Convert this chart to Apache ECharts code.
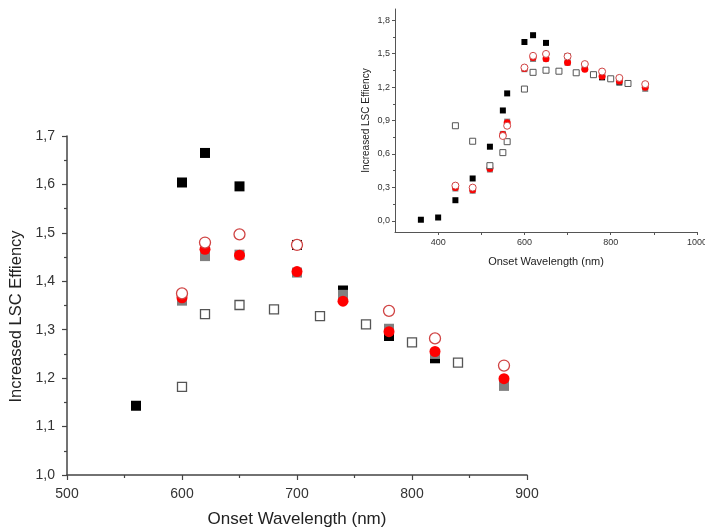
<!DOCTYPE html>
<html>
<head>
<meta charset="utf-8">
<script src="https://cdn.jsdelivr.net/npm/echarts@6/dist/echarts.min.js"></script>
<style>
  html, body { margin: 0; padding: 0; background: #fff; }
  #chart { width: 705px; height: 529px; }
</style>
</head>
<body>
<div id="chart"></div>
<script>
// Onset wavelength (nm) vs. increased LSC efficiency, five sample sets.
// Filled black squares
const blackSquares = [[360,0.01],[400,0.03],[440,0.185],[480,0.38],[520,0.665],[550,0.99],[560,1.143],[600,1.604],[620,1.665],[650,1.596],[700,1.475],[740,1.381],[780,1.287],[820,1.241]];
// Filled grey squares
const greySquares = [[440,0.29],[480,0.27],[520,0.46],[550,0.78],[560,0.89],[600,1.36],[620,1.452],[650,1.455],[700,1.418],[740,1.372],[780,1.302],[820,1.25],[880,1.184]];
// Filled red circles
const redDots = [[440,0.30],[480,0.28],[520,0.47],[550,0.775],[560,0.88],[600,1.366],[620,1.466],[650,1.454],[700,1.42],[740,1.359],[780,1.296],[820,1.255],[880,1.199]];
// Open squares
const openSquares = [[440,0.853],[480,0.714],[520,0.495],[550,0.612],[560,0.71],[600,1.182],[620,1.332],[650,1.351],[680,1.342],[720,1.328],[760,1.311],[800,1.274],[840,1.232]];
// Open red circles
const openCircles = [[440,0.316],[480,0.298],[550,0.761],[560,0.853],[600,1.375],[620,1.48],[650,1.497],[700,1.475],[780,1.339],[820,1.282],[880,1.226]];
// Extra open circle shown only in the wide-range inset
const openCirclesInsetExtra = [[740,1.406]];

const insetYLabels = [0,0.3,0.6,0.9,1.2,1.5,1.8];
const insetYMinor = [0.15,0.45,0.75,1.05,1.35,1.65];
const insetXLabels = [400,600,800,1000];
const insetXTicks = [400,500,600,700,800,900,1000];

const FONT = 'Liberation Sans, Arial, sans-serif';
const comma = v => (Math.round(v * 10) / 10).toFixed(1).replace('.', ',');
const plain = v => String(Math.round(v));

function inMain(p) { return p[0] >= 500 && p[0] <= 900 && p[1] >= 1.0 && p[1] <= 1.7; }

function seriesSet(axisIdx, big, circleData) {
  const sq = big ? 10 : 6;
  const cs = big ? 11 : 7;
  const f = d => big ? d.filter(inMain) : d;
  const base = { type: 'scatter', xAxisIndex: axisIdx, yAxisIndex: axisIdx === 0 ? 0 : 1, clip: true, silent: true };
  return [
    Object.assign({}, base, { data: f(blackSquares), symbol: 'rect', symbolSize: sq, itemStyle: { color: '#000', opacity: 1 } }),
    Object.assign({}, base, { data: f(greySquares), symbol: 'rect', symbolSize: sq, itemStyle: { color: '#808080', opacity: 1 } }),
    Object.assign({}, base, { data: f(redDots), symbol: 'circle', symbolSize: cs, itemStyle: { color: '#ff0000', opacity: 1 } }),
    Object.assign({}, base, { data: f(openSquares), symbol: 'rect', symbolSize: big ? 9 : 6, itemStyle: { color: '#fff', opacity: 1, borderColor: '#555', borderWidth: big ? 1.3 : 1 } }),
    Object.assign({}, base, { data: f(circleData), symbol: 'circle', symbolSize: cs, itemStyle: { color: '#fff', opacity: 1, borderColor: '#d04444', borderWidth: big ? 1.3 : 1 } })
  ];
}

const chart = echarts.init(document.getElementById('chart'), null, { renderer: 'canvas' });
chart.setOption({
  backgroundColor: '#fff',
  animation: false,
  grid: [
    { left: 67, right: 178, top: 136, bottom: 54, containLabel: false, outerBoundsMode: 'none' },
    { left: 395, right: 8, top: 9, bottom: 297, containLabel: false, outerBoundsMode: 'none' }
  ],
  xAxis: [
    {
      gridIndex: 0, type: 'value', min: 500, max: 900, interval: 100,
      name: 'Onset Wavelength (nm)', nameLocation: 'middle', nameGap: 36,
      nameTextStyle: { fontFamily: FONT, fontSize: 17, color: '#222' },
      axisLine: { show: true, onZero: false, lineStyle: { color: '#444', width: 1.5 } },
      axisTick: { show: true, length: 5, lineStyle: { color: '#444', width: 1.2 } },
      minorTick: { show: true, splitNumber: 2, length: 3, lineStyle: { color: '#444', width: 1.2 } },
      axisLabel: { fontFamily: FONT, fontSize: 14, color: '#333', margin: 12 },
      splitLine: { show: false }
    },
    {
      gridIndex: 1, type: 'value', min: 300, max: 1000,
      name: 'Onset Wavelength (nm)', nameLocation: 'middle', nameGap: 24,
      nameTextStyle: { fontFamily: FONT, fontSize: 11, color: '#222' },
      axisLine: { show: true, onZero: false, lineStyle: { color: '#555', width: 1 } },
      axisTick: { show: true, length: 3, customValues: insetXTicks, lineStyle: { color: '#555' } },
      axisLabel: { fontFamily: FONT, fontSize: 9, color: '#333', margin: 6, customValues: insetXLabels, formatter: plain },
      splitLine: { show: false }
    }
  ],
  yAxis: [
    {
      gridIndex: 0, type: 'value', min: 1.0, max: 1.7, interval: 0.1,
      name: 'Increased LSC Effiency', nameLocation: 'middle', nameGap: 40, nameRotate: 90,
      nameTextStyle: { fontFamily: FONT, fontSize: 16.5, color: '#222', padding: [0, 22, 0, 0] },
      axisLine: { show: true, onZero: false, lineStyle: { color: '#444', width: 1.5 } },
      axisTick: { show: true, length: 5, lineStyle: { color: '#444', width: 1.2 } },
      minorTick: { show: true, splitNumber: 2, length: 3, lineStyle: { color: '#444', width: 1.2 } },
      axisLabel: { fontFamily: FONT, fontSize: 14, color: '#333', margin: 12, formatter: comma },
      splitLine: { show: false }
    },
    {
      gridIndex: 1, type: 'value', min: -0.1, max: 1.9, position: 'left',
      name: 'Increased LSC Effiency', nameLocation: 'middle', nameGap: 24, nameRotate: 90,
      nameTextStyle: { fontFamily: FONT, fontSize: 10, color: '#222' },
      axisLine: { show: true, onZero: false, lineStyle: { color: '#555', width: 1 } },
      axisTick: { show: true, length: 3, customValues: insetYLabels, lineStyle: { color: '#555' } },
      axisLabel: { fontFamily: FONT, fontSize: 9, color: '#333', margin: 5, customValues: insetYLabels, formatter: comma },
      splitLine: { show: false }
    },
    {
      // short in-between ticks on the inset's vertical axis
      gridIndex: 1, type: 'value', min: -0.1, max: 1.9, position: 'left', offset: 0,
      axisLine: { show: false },
      axisTick: { show: true, length: 2, customValues: insetYMinor, lineStyle: { color: '#555' } },
      axisLabel: { show: false },
      splitLine: { show: false }
    }
  ],
  series: [].concat(
    seriesSet(0, true, openCircles),
    seriesSet(1, false, openCircles.concat(openCirclesInsetExtra))
  )
});
</script>
</body>
</html>
